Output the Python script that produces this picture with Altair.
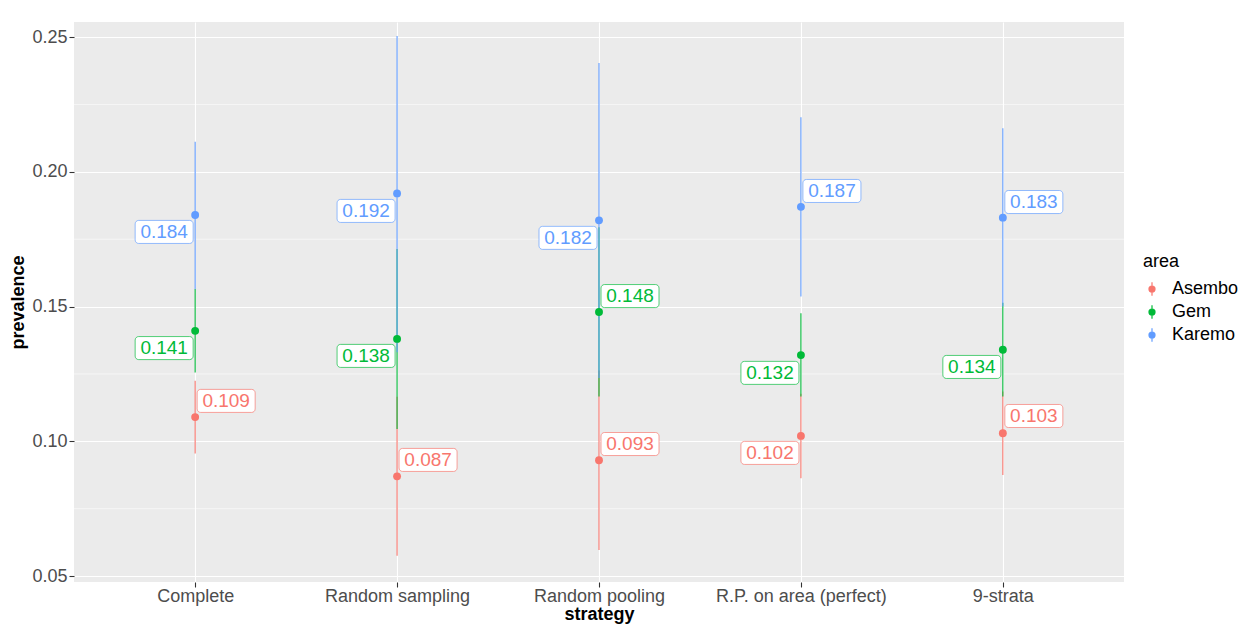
import altair as alt
import pandas as pd

strategies = ["Complete", "Random sampling", "Random pooling", "R.P. on area (perfect)", "9-strata"]
areas = ["Asembo", "Gem", "Karemo"]

est_asembo = [0.109, 0.087, 0.093, 0.102, 0.103]
est_gem = [0.141, 0.138, 0.148, 0.132, 0.134]
est_karemo = [0.184, 0.192, 0.182, 0.187, 0.183]

lo_asembo = [0.0955, 0.0575, 0.0597, 0.0863, 0.0875]
hi_asembo = [0.1225, 0.1165, 0.1263, 0.1177, 0.1185]
lo_gem = [0.1255, 0.1046, 0.1166, 0.1166, 0.1166]
hi_gem = [0.1565, 0.1714, 0.1794, 0.1475, 0.1514]
lo_karemo = [0.1564, 0.1331, 0.1235, 0.1537, 0.1500]
hi_karemo = [0.2112, 0.2504, 0.2404, 0.2203, 0.2162]

# label anchor (prevalence units) and side of the line
lab_asembo = [0.1150, 0.0931, 0.0990, 0.0957, 0.1094]
lab_gem = [0.1346, 0.1317, 0.1539, 0.1254, 0.1276]
lab_karemo = [0.1777, 0.1855, 0.1755, 0.1929, 0.1888]
side_asembo = ["R", "R", "R", "L", "R"]
side_gem = ["L", "L", "R", "L", "L"]
side_karemo = ["L", "L", "L", "R", "R"]

major_ticks = [0.05, 0.10, 0.15, 0.20, 0.25]
minor_ticks = [0.075, 0.125, 0.175, 0.225]

colors = ["#F8766D", "#00BA38", "#619CFF"]

rows = []
for a, est, lo, hi, lab, side in [
    ("Asembo", est_asembo, lo_asembo, hi_asembo, lab_asembo, side_asembo),
    ("Gem", est_gem, lo_gem, hi_gem, lab_gem, side_gem),
    ("Karemo", est_karemo, lo_karemo, hi_karemo, lab_karemo, side_karemo),
]:
    for i, s in enumerate(strategies):
        rows.append(dict(strategy=s, area=a, est=est[i], lo=lo[i], hi=hi[i],
                         laby=lab[i], side=side[i], txt=f"{est[i]:.3f}"))
df = pd.DataFrame(rows)

ydom = [0.0478, 0.2556]
xscale = alt.Scale(type="point", domain=strategies, padding=0.6)
yscale = alt.Scale(domain=ydom, nice=False, zero=False)
cscale = alt.Scale(domain=areas, range=colors)

X = alt.X("strategy:N", scale=xscale, sort=strategies,
          axis=alt.Axis(title="strategy", labelAngle=0, labelPadding=0, titlePadding=0))
base = alt.Chart(df)

minor = alt.Chart(pd.DataFrame({"v": minor_ticks})).mark_rule(
    color="white", strokeWidth=0.55
).encode(y=alt.Y("v:Q", scale=yscale))

rules = base.mark_rule(strokeWidth=1.1).encode(
    x=X,
    y=alt.Y("lo:Q", scale=yscale,
            axis=alt.Axis(title="prevalence", values=major_ticks, format=".2f")),
    y2="hi:Q",
    color=alt.Color("area:N", scale=cscale,
                    legend=alt.Legend(title="area", orient="none", legendX=1069, legendY=231,
                                      symbolType="M0,-1V1M-0.45,0A0.45,0.45 0 1 1 0.45,0A0.45,0.45 0 1 1 -0.45,0Z",
                                      symbolSize=180, symbolStrokeWidth=1.2,
                                      labelFontSize=18, titleFontSize=18, titleFontWeight="normal",
                                      labelColor="black", titleColor="black", rowPadding=3,
                                      titlePadding=9, labelOffset=11)),
)
points = base.mark_circle(size=62, opacity=1).encode(
    x=X, y=alt.Y("est:Q", scale=yscale),
    color=alt.Color("area:N", scale=cscale),
)

box_path = ("M-0.88,-0.397H0.88A0.12,0.12 0 0 1 1,-0.277V0.277A0.12,0.12 0 0 1 0.88,0.397"
            "H-0.88A0.12,0.12 0 0 1 -1,0.277V-0.277A0.12,0.12 0 0 1 -0.88,-0.397Z")

def label_layers(side, dx):
    sub = base.transform_filter(alt.datum.side == side)
    box = sub.mark_point(shape=box_path, size=58 * 58, filled=False, fill="white",
                         fillOpacity=1, strokeWidth=0.9, strokeOpacity=0.75, xOffset=dx,
                         opacity=1).encode(
        x=X, y=alt.Y("laby:Q", scale=yscale),
        stroke=alt.Stroke("area:N", scale=cscale, legend=None),
    )
    txt = sub.mark_text(fontSize=19, xOffset=dx, align="center", baseline="middle",
                        font="Liberation Sans").encode(
        x=X, y=alt.Y("laby:Q", scale=yscale), text="txt:N",
        fill=alt.Fill("area:N", scale=cscale, legend=None),
    )
    return [box, txt]

layers = [minor, rules, points] + label_layers("L", -31) + label_layers("R", 31)

chart = alt.layer(*layers).properties(
    width=1050, height=560,
    autosize=alt.AutoSizeParams(type="none"),
    padding={"left": 66, "top": 14, "right": 116, "bottom": 44},
    background="white",
).configure_view(fill="#EBEBEB", stroke=None).configure_axis(
    labelFont="Liberation Sans", titleFont="Liberation Sans",
    labelFontSize=18, labelColor="#4D4D4D", titleFontSize=18, titleColor="black",
    titleFontWeight="bold", tickColor="#333333", tickSize=5, tickWidth=1.1,
    domain=False, grid=True, gridColor="white", gridWidth=1.1, labelPadding=2,
).configure_axisY(titlePadding=4).configure_legend(
    labelFont="Liberation Sans", titleFont="Liberation Sans"
)

chart.save("out.html", embed_options={"renderer": "svg", "actions": False})
